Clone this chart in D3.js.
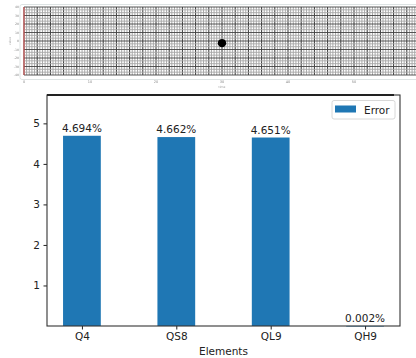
<!DOCTYPE html>
<html>
<head>
<meta charset="utf-8">
<script src="https://cdn.jsdelivr.net/npm/d3@7"></script>
<style>
  html, body { margin: 0; padding: 0; background: #fff; }
  svg { display: block; }
  text { font-family: "DejaVu Sans", sans-serif; }
</style>
</head>
<body>
<svg id="chart" width="416" height="358"></svg>
<script>
// ---- data: error per element ----
const elements = ["Q4", "QS8", "QL9", "QH9"];
const errorValues = [4.694, 4.662, 4.651, 0.002];
const yTicks = [1, 2, 3, 4, 5];
const seriesName = "Error";

// ---- data: strip plot above (single marker on a dense grid) ----
const stripXTicks = [0, 10, 20, 30, 40, 50];
const stripYTicks = [40, 30, 20, 10, 0, -10, -20, -30, -40];
const markerX = [30];
const markerY = [-2.5];

const svg = d3.select("#chart");

// ===== strip plot =====
const defs = svg.append("defs");
defs.append("filter").attr("id", "soft")
  .append("feGaussianBlur").attr("stdDeviation", 0.6);

const sx = d3.scaleLinear().domain([0, 60]).range([24, 420]);
const sy = d3.scaleLinear().domain([-40, 40]).range([75, 7]);

const strip = svg.append("g").attr("filter", "url(#soft)");

strip.append("rect")
  .attr("x", 20).attr("y", 4.5).attr("width", 410).attr("height", 75)
  .attr("rx", 2).attr("fill", "#fff").attr("stroke", "#dde3e3").attr("stroke-width", 1);

// minor / major vertical grid lines
const vMinor = d3.range(0, 60.01, 0.4);
strip.append("g").selectAll("line").data(vMinor).join("line")
  .attr("x1", d => sx(d)).attr("x2", d => sx(d))
  .attr("y1", sy(40)).attr("y2", sy(-40))
  .attr("stroke", (d, i) => (i % 5 === 0) ? "#333" : "#9a9a9a")
  .attr("stroke-width", (d, i) => (i % 5 === 0) ? 1 : 0.85);

// minor / major horizontal grid lines
const hMinor = d3.range(-40, 40.01, 10 / 3);
strip.append("g").selectAll("line").data(hMinor).join("line")
  .attr("x1", sx(0)).attr("x2", sx(60))
  .attr("y1", d => sy(d)).attr("y2", d => sy(d))
  .attr("stroke", (d, i) => i % 3 === 0 ? "#444" : "#a8a8a8")
  .attr("stroke-width", 0.9);

// red reference line at x = 0
strip.append("line")
  .attr("x1", sx(0)).attr("x2", sx(0)).attr("y1", sy(40)).attr("y2", sy(-40))
  .attr("stroke", "#e05050").attr("stroke-width", 1);

// marker
strip.selectAll("circle.m").data(markerX).join("circle")
  .attr("class", "m")
  .attr("cx", d => sx(d)).attr("cy", (d, i) => sy(markerY[i]))
  .attr("r", 4.2).attr("fill", "#000");

// tiny axis labels
strip.append("g").selectAll("text").data(stripXTicks).join("text")
  .attr("x", d => sx(d)).attr("y", 83)
  .attr("text-anchor", "middle").attr("font-size", 3.5).attr("fill", "#888")
  .text(d => d);
strip.append("g").selectAll("text").data(stripYTicks).join("text")
  .attr("x", 19).attr("y", d => sy(d) + 1.2)
  .attr("text-anchor", "end").attr("font-size", 3.2).attr("fill", "#888")
  .text(d => d);
strip.append("text").attr("x", sx(30)).attr("y", 87.5)
  .attr("text-anchor", "middle").attr("font-size", 3).attr("fill", "#999").text("time");
strip.append("text").attr("transform", `translate(11,${sy(0)}) rotate(-90)`)
  .attr("text-anchor", "middle").attr("font-size", 3).attr("fill", "#999").text("value");

// ===== bar chart =====
const mLeft = 47, mRight = 400, mTop = 95, mBottom = 326;
const x = d3.scaleLinear().domain([-0.37, elements.length - 1 + 0.37]).range([mLeft, mRight]);
const y = d3.scaleLinear().domain([0, 5.7]).range([mBottom, mTop]);
const barW = x(0.4) - x(0);

const plot = svg.append("g");

plot.selectAll("rect.bar").data(errorValues).join("rect")
  .attr("class", "bar")
  .attr("x", (d, i) => x(i) - barW / 2)
  .attr("y", d => y(d))
  .attr("width", barW)
  .attr("height", d => Math.max(y(0) - y(d), 0.6))
  .attr("fill", "#1f77b4");

plot.selectAll("text.val").data(errorValues).join("text")
  .attr("class", "val")
  .attr("x", (d, i) => x(i))
  .attr("y", d => y(d) - 4)
  .attr("text-anchor", "middle")
  .attr("font-size", 10.5)
  .attr("fill", "#222")
  .text(d => d3.format(".3f")(d) + "%");

// axes
const yAxis = d3.axisLeft(y).tickValues(yTicks).tickSize(3.5).tickPadding(3.5).tickFormat(d3.format("d"));
const gy = plot.append("g").attr("transform", `translate(${mLeft},0)`).call(yAxis);
gy.select(".domain").remove();
gy.selectAll("text").attr("font-size", 10.5).attr("fill", "#222").attr("font-family", "DejaVu Sans, sans-serif");
gy.selectAll("line").attr("stroke", "#222");

const xAxis = d3.axisBottom(x).tickValues(d3.range(elements.length))
  .tickFormat(i => elements[i]).tickSize(3.5).tickPadding(3.5);
const gx = plot.append("g").attr("transform", `translate(0,${mBottom})`).call(xAxis);
gx.select(".domain").remove();
gx.selectAll("text").attr("font-size", 10.5).attr("fill", "#222").attr("font-family", "DejaVu Sans, sans-serif");
gx.selectAll("line").attr("stroke", "#222");

// frame
plot.append("rect")
  .attr("x", mLeft).attr("y", mTop).attr("width", mRight - mLeft).attr("height", mBottom - mTop)
  .attr("fill", "none").attr("stroke", "#333").attr("stroke-width", 1.1);
plot.append("line").attr("x1", mLeft).attr("x2", mRight - 6).attr("y1", mTop).attr("y2", mTop)
  .attr("stroke", "#222").attr("stroke-width", 1.8);

plot.append("text").attr("x", (mLeft + mRight) / 2).attr("y", 355)
  .attr("text-anchor", "middle").attr("font-size", 10.5).attr("fill", "#222").text("Elements");

// legend
const lg = plot.append("g");
lg.append("rect").attr("x", 332).attr("y", 100.5).attr("width", 63).attr("height", 18.5)
  .attr("rx", 2).attr("fill", "#fff").attr("stroke", "#d8d8d8");
lg.append("rect").attr("x", 335).attr("y", 105.5).attr("width", 21).attr("height", 7)
  .attr("fill", "#1f77b4");
lg.append("text").attr("x", 364).attr("y", 113.5).attr("font-size", 10.5).attr("fill", "#222").text(seriesName);
</script>
</body>
</html>
